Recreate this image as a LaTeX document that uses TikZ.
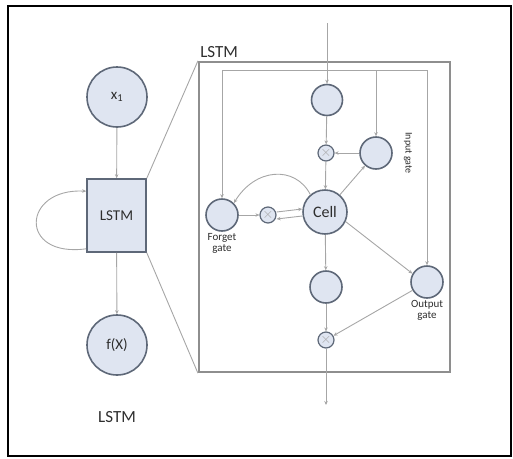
\documentclass[tikz,border=0pt]{standalone}
\usepackage{fontspec}
\setmainfont{Carlito}
\usetikzlibrary{arrows.meta, calc}

\definecolor{cfill}{HTML}{DFE5F1}
\definecolor{cline}{HTML}{5E6878}
\definecolor{cwire}{HTML}{A6A6A6}
\definecolor{cbox}{HTML}{8E8E8E}
\definecolor{ink}{HTML}{2E2E2E}

\newcommand{\fsz}[1]{\fontsize{#1}{#1}\selectfont}

\begin{document}
\begin{tikzpicture}[x=1pt, y=-1pt, >={Stealth[length=4pt, width=3.5pt]}, line width=0.8pt,
  unit/.style={circle, draw=cline, fill=cfill, line width=1.6pt, inner sep=0pt, text=ink},
  mul/.style={circle, draw=cline, fill=cfill, line width=1.2pt, inner sep=0pt, minimum size=16pt, text=cwire, font=\fsz{15}},
  wire/.style={draw=cwire, line width=0.9pt},
  tag/.style={text=ink, align=center, inner sep=1pt}]
  \useasboundingbox (0,0) rectangle (513,458);
  \draw[line width=1.5pt] (8,6) rectangle (511,456);
  % ===== Folded =====
  \begin{scope}
    \node[unit, minimum size=60pt, font=\fsz{15}] (x1) at (117,97) {x\textsubscript{1}};
    \node[unit, rectangle, minimum width=59pt, minimum height=73pt, font=\fsz{15}] (lstm) at (116.5,215.5) {LSTM};
    \node[unit, minimum size=60pt, font=\fsz{15}] (fx) at (117,345) {f(X)};
    \node[tag, font=\fsz{17}] (name) at (117,417) {LSTM};
    \draw[wire, ->] (x1) -- (lstm);
    \draw[wire, ->] (lstm) -- (fx);
    \draw[wire, ->] ([yshift=4pt]lstm.south west) .. controls (18,258) and (22,188) .. ([yshift=-13pt]lstm.north west);
  \end{scope}
  % ===== Unfolded =====
  \begin{scope}
    \node[draw=cbox, line width=2.2pt, minimum width=251pt, minimum height=310pt] (big) at (324.5,217) {};
    \node[tag, font=\fsz{17}, anchor=south west] (title) at ($(big.north west)+(1,-2)$) {LSTM};
    \draw[wire] (lstm.north east) -- (big.north west);
    \draw[wire] (lstm.south east) -- (big.south west);
    \node[unit, minimum size=31pt] (g) at (327,100) {};
    \node[mul] (mi) at (326,153) {$\times$};
    \node[unit, minimum size=32pt] (ig) at (376,153) {};
    \node[unit, minimum size=44pt, font=\fsz{16}] (cell) at (325,212) {Cell};
    \node[unit, minimum size=32pt] (fg) at (222,215) {};
    \node[mul] (mf) at (268,215) {$\times$};
    \node[unit, minimum size=32pt] (h) at (326,287) {};
    \node[mul] (mo) at (326,340) {$\times$};
    \node[unit, minimum size=32pt] (og) at (427,282) {};
    \node[tag, font=\fsz{10}, rotate=-90] (iglbl) at (408,153) {Input gate};
    \node[tag, font=\fsz{11}, below=1pt, inner sep=0pt] (fglbl) at (fg.south) {Forget\\gate};
    \node[tag, font=\fsz{11}, below=1pt, inner sep=0pt] (oglbl) at (og.south) {Output\\gate};
    % recurrent lines
    \coordinate (tl) at (222,70); \coordinate (tm) at (376,70); \coordinate (tr) at (427,70);
    \coordinate (in) at (327,23); \coordinate (out) at (326,405);
    \draw[wire] (tl) -- (tr);
    \draw[wire, ->] (tl) -- (fg);
    \draw[wire, ->] (tm) -- (ig);
    \draw[wire, ->] (tr) -- (og);
    \draw[wire, ->] (in) -- (g);
    \draw[wire, ->] (g) -- (mi);
    \draw[wire, ->] (ig) -- (mi);
    \draw[wire, ->] (mi) -- (cell);
    \draw[wire, ->] (cell) -- (ig);
    \draw[wire, ->] (cell.130) .. controls (295,165) and (255,168) .. (fg.45);
    \draw[wire, ->] (fg) -- (mf);
    \draw[wire, ->] ($(mf.east)+(0,-3)$) -- ($(cell.west)+(0,-3)$);
    \draw[wire, ->] ($(cell.west)+(0,4)$) -- ($(mf.east)+(0,4)$);
    \draw[wire, ->] (cell) -- (h);
    \draw[wire, ->] (cell.-25) -- (og.150);
    \draw[wire, ->] (h) -- (mo);
    \draw[wire, ->] (og) -- (mo);
    \draw[wire, ->] (mo) -- (out);
  \end{scope}
\end{tikzpicture}
\end{document}
